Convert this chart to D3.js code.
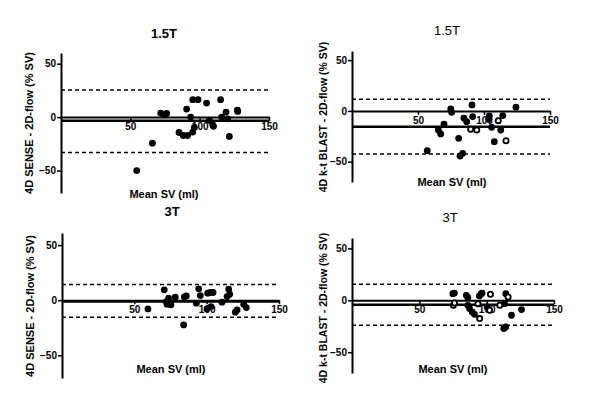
<!DOCTYPE html>
<html>
<head>
<meta charset="utf-8">
<script src="https://cdn.jsdelivr.net/npm/d3@7"></script>
<style>
  html, body { margin: 0; padding: 0; background: #fff; }
  svg { display: block; font-family: "Liberation Sans", Arial, sans-serif; }
</style>
</head>
<body>
<svg id="chart" width="600" height="410"></svg>
<script>
// ---------- data ----------
const xTicks = [50, 100, 150];
const yTicks = [-50, 0, 50];

const titles = ["1.5T", "1.5T", "3T", "3T"];
const yLabels = ["4D SENSE - 2D-flow (% SV)", "4D k-t BLAST - 2D-flow (% SV)",
                 "4D SENSE - 2D-flow (% SV)", "4D k-t BLAST - 2D-flow (% SV)"];
const xLabel = "Mean SV (ml)";

const bias  = [-3.5, -15.5, -1.2, -4.2];
const upper = [25.3, 11.5, 14.2, 15.4];
const lower = [-33, -42.4, -15.5, -24];

// Panel 1: 4D SENSE 1.5T
const p1X = [54.6, 65.9, 71.9, 74.5, 76.2, 85.1, 88.2, 91.3, 90.6, 93.5, 95.0, 96.2, 95.0, 98.8, 105.0, 107.0, 109.4, 110.0, 115.1, 115.9, 119.0, 120.2, 121.4, 127.2, 127.4];
const p1Y = [-50, -24.4, 3.8, 2.2, 3.4, -14.4, -17.2, -17.2, 7.5, 0, -14, -9.7, 16.3, 16.3, 13.1, -3.1, -7.2, -8.6, 16.3, 0, 4.7, -1.6, -18.1, 6.6, 5.3];

// Panel 2: 4D k-t BLAST 1.5T
const p2X = [57, 65.4, 67.2, 69.7, 74.8, 75.5, 80.8, 81.8, 83.9, 84.8, 86.9, 90.9, 91.4, 104, 103.6, 105.8, 107.8, 112.7, 114.2, 124.2];
const p2Y = [-39.2, -18.8, -22.7, -13.1, 2, -1.3, -27, -44.4, -41.8, -7.2, -10.6, 5.9, -5.6, -4.9, -8.2, -16.1, -30.3, -18.8, -4.6, 3.7];
const p2OpenX = [89.9, 94.5, 110.8, 116.7];
const p2OpenY = [-18, -18.8, -9.6, -29.3];

// Panel 3: 4D SENSE 3T
const p3X = [59.4, 70.7, 72.1, 72.6, 73.7, 75.3, 78.3, 84.6, 85.9, 84.1, 92.9, 94.5, 95.6, 100.7, 102.5, 104.4, 100.2, 103.0, 110.6, 114.1, 115.2, 115.9, 119.8, 121.0, 125.6, 127.4];
const p3Y = [-7.9, 9.4, -1.2, -3.6, 1.8, -4.2, 2.7, 3.0, 3.9, -22.4, -2.7, 10.3, 4.2, 6.4, 7.0, 7.0, -7.9, -5.8, -1.8, 3.3, 10.0, 5.5, -10.9, -8.8, -3.6, -6.7];

// Panel 4: 4D k-t BLAST 3T
const p4X = [74.9, 76.0, 84.9, 86.0, 86.0, 87.3, 89.3, 91.0, 94.6, 96.0, 96.6, 100.4, 113.3, 114.2, 112.7, 114.2, 118.4, 125.9];
const p4Y = [6.4, 7.0, 4.8, 2.6, -4.8, -8.0, -11.3, -13.5, 4.2, 6.4, 7.0, -6.4, -3.2, 6.4, -27.2, -25.7, -14.4, -8.9];
const p4OpenX = [75.3, 76.1, 93.5, 94.8, 102.2, 102.8, 109.7, 115.9];
const p4OpenY = [-4.8, -2.6, -3.2, -17.6, -9.6, 5.8, -4.8, 3.2];

// ---------- layout ----------
const panels = [
  { xr: [61, 269], yd: [-71, 60], yr: [193, 53], title: [164, 35], titleBold: true,
    yl: [30, 123], xl: [164, 195], filled: [p1X, p1Y], open: null },
  { xr: [352, 550], yd: [-70, 59], yr: [182, 51], title: [447, 32], titleBold: false,
    yl: [324, 117], xl: [452, 183], filled: [p2X, p2Y], open: [p2OpenX, p2OpenY] },
  { xr: [62, 279], yd: [-70.6, 61], yr: [378, 233], title: [172, 213], titleBold: true,
    yl: [31, 306], xl: [171, 370], filled: [p3X, p3Y], open: null },
  { xr: [352, 554], yd: [-70, 60], yr: [373, 238], title: [450, 219], titleBold: false,
    yl: [324, 308], xl: [453, 370], filled: [p4X, p4Y], open: [p4OpenX, p4OpenY] }
];

const svg = d3.select("#chart");

panels.forEach((p, i) => {
  const x = d3.scaleLinear().domain([0, 150]).range(p.xr);
  const y = d3.scaleLinear().domain(p.yd).range(p.yr);
  const g = svg.append("g");

  // limits of agreement (dashed)
  [upper[i], lower[i]].forEach(v => {
    g.append("line")
      .attr("x1", x(0)).attr("x2", x(150))
      .attr("y1", y(v)).attr("y2", y(v))
      .attr("stroke", "#000").attr("stroke-width", 1.5)
      .attr("stroke-dasharray", "4,3");
  });

  // bias line
  g.append("line")
    .attr("x1", x(0)).attr("x2", x(150))
    .attr("y1", y(bias[i])).attr("y2", y(bias[i]))
    .attr("stroke", "#000").attr("stroke-width", 2.5);

  // x axis at y = 0
  const xAxis = d3.axisBottom(x).tickValues(xTicks).tickSize(4).tickSizeOuter(0).tickPadding(2);
  const gx = g.append("g").attr("transform", `translate(0,${y(0)})`).call(xAxis);
  gx.select(".domain").attr("stroke-width", 2);
  gx.selectAll(".tick line").attr("stroke-width", 1.5);
  gx.selectAll(".tick text").attr("font-size", 10).attr("font-weight", "bold")
    .attr("font-family", "Liberation Sans, Arial, sans-serif").attr("fill", "#000");

  // y axis
  const yAxis = d3.axisLeft(y).tickValues(yTicks).tickSize(4).tickSizeOuter(0).tickPadding(1);
  const gy = g.append("g").attr("transform", `translate(${x(0)},0)`).call(yAxis);
  gy.select(".domain").attr("stroke-width", 2);
  gy.selectAll(".tick line").attr("stroke-width", 1.5);
  gy.selectAll(".tick text").attr("font-size", 10).attr("font-weight", "bold")
    .attr("font-family", "Liberation Sans, Arial, sans-serif").attr("fill", "#000");

  // filled points
  g.selectAll("circle.f").data(d3.range(p.filled[0].length)).enter()
    .append("circle").attr("class", "f")
    .attr("cx", k => x(p.filled[0][k])).attr("cy", k => y(p.filled[1][k]))
    .attr("r", 3.4).attr("fill", "#000");

  // open points
  if (p.open) {
    g.selectAll("circle.o").data(d3.range(p.open[0].length)).enter()
      .append("circle").attr("class", "o")
      .attr("cx", k => x(p.open[0][k])).attr("cy", k => y(p.open[1][k]))
      .attr("r", 2.6).attr("fill", "#fff").attr("stroke", "#000").attr("stroke-width", 1.8);
  }

  // title
  g.append("text").attr("x", p.title[0]).attr("y", p.title[1])
    .attr("text-anchor", "middle").attr("dominant-baseline", "middle")
    .attr("font-size", 13).attr("font-weight", p.titleBold ? "bold" : "normal")
    .text(titles[i]);

  // y label
  g.append("text").attr("transform", `translate(${p.yl[0]},${p.yl[1]}) rotate(-90)`)
    .attr("text-anchor", "middle").attr("dominant-baseline", "middle")
    .attr("font-size", i % 2 ? 10.5 : 11).attr("font-weight", "bold")
    .text(yLabels[i]);

  // x label
  g.append("text").attr("x", p.xl[0]).attr("y", p.xl[1])
    .attr("text-anchor", "middle").attr("dominant-baseline", "middle")
    .attr("font-size", 11).attr("font-weight", "bold")
    .text(xLabel);
});
</script>
</body>
</html>
